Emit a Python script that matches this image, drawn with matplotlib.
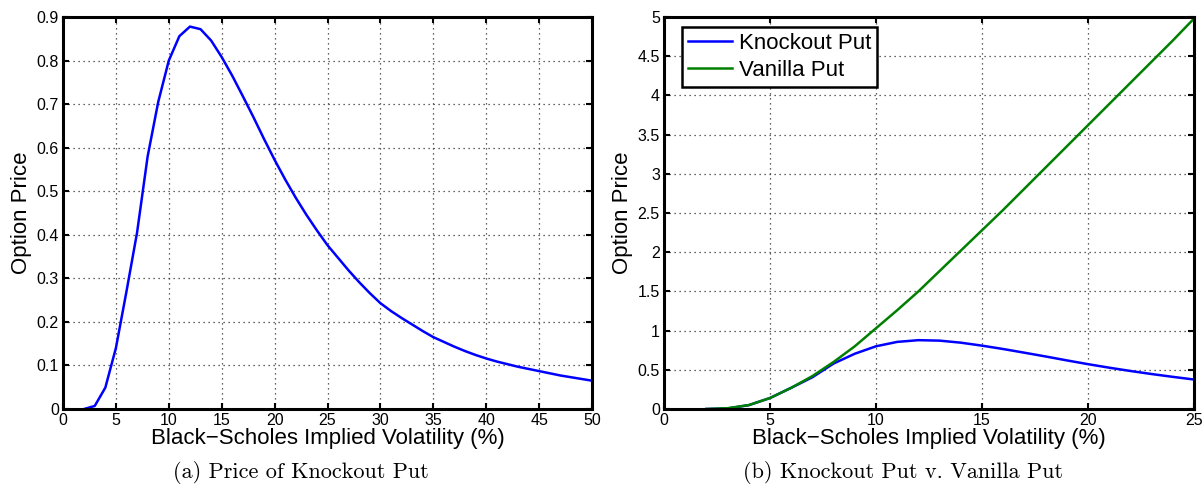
import numpy as np
import matplotlib
matplotlib.use("Agg")
import matplotlib.pyplot as plt
from matplotlib.ticker import FormatStrFormatter

plt.rcParams["font.family"] = ["Liberation Sans", "DejaVu Sans"]

# 数据：隐含波动率 (%) 与期权价格
vol = np.arange(2, 51)
knockout = [
    0.0, 0.007, 0.049, 0.14, 0.27, 0.405, 0.58, 0.705, 0.80, 0.856,
    0.878, 0.872, 0.846, 0.808, 0.765, 0.718, 0.67, 0.62, 0.572, 0.527,
    0.485, 0.446, 0.41, 0.376, 0.347, 0.318, 0.291, 0.266, 0.243, 0.225,
    0.209, 0.194, 0.179, 0.165, 0.154, 0.143, 0.133, 0.124, 0.116, 0.109,
    0.103, 0.097, 0.092, 0.087, 0.082, 0.077, 0.073, 0.069, 0.065,
]
vol_b = np.arange(2, 26)
vanilla = [
    0.0, 0.01, 0.05, 0.14, 0.27, 0.42, 0.6, 0.8, 1.03, 1.26,
    1.5, 1.76, 2.02, 2.28, 2.54, 2.81, 3.08, 3.35, 3.62, 3.89,
    4.16, 4.43, 4.7, 4.98,
]
knockout_b = knockout[: len(vol_b)]

xlabel = "Black\u2212Scholes Implied Volatility (%)"

W, H = 1203, 492
fig = plt.figure(figsize=(W / 100, H / 100), dpi=100)
ax1 = fig.add_axes([63 / W, 1 - 409 / H, 529 / W, 392 / H])
ax2 = fig.add_axes([664 / W, 1 - 409 / H, 530 / W, 392 / H])


def style(ax):
    ax.grid(True, color="0.2", linestyle=(0, (1, 3)), linewidth=0.9)
    ax.tick_params(direction="in", top=True, right=True, length=4, width=1.5,
                   labelsize=11.5, pad=3)
    for s in ax.spines.values():
        s.set_linewidth(2.2)
    ax.set_xlabel(xlabel, fontsize=16, labelpad=0)
    ax.set_ylabel("Option Price", fontsize=16, labelpad=3)
    ax.yaxis.set_major_formatter(FormatStrFormatter("%g"))


ax1.plot(vol, knockout, color="blue", linewidth=1.8)
ax1.set_xlim(0, 50)
ax1.set_ylim(0, 0.9)
ax1.set_xticks(np.arange(0, 51, 5))
ax1.set_yticks(np.arange(0, 0.91, 0.1))
style(ax1)

ax2.plot(vol_b, knockout_b, color="blue", linewidth=1.8, label="Knockout Put")
ax2.plot(vol_b, vanilla, color="#008000", linewidth=1.8, label="Vanilla Put")
ax2.set_xlim(0, 25)
ax2.set_ylim(0, 5)
ax2.set_xticks(np.arange(0, 26, 5))
ax2.set_yticks(np.arange(0, 5.01, 0.5))
style(ax2)
leg = ax2.legend(loc="upper left", bbox_to_anchor=(18 / 530, 1 - 10 / 392),
                 fontsize=16, fancybox=False, framealpha=1,
                 edgecolor="black", borderpad=0.25, handlelength=2.0,
                 handletextpad=0.3, labelspacing=0.3, borderaxespad=0)
leg.get_frame().set_linewidth(1.8)

fig.text(301 / W, 1 - 473 / H, "(a) Price of Knockout Put", family="cmr10",
         fontsize=16, ha="center", va="center")
fig.text(903 / W, 1 - 473 / H, "(b) Knockout Put v. Vanilla Put", family="cmr10",
         fontsize=16, ha="center", va="center")

fig.savefig("out.png", dpi=100)
